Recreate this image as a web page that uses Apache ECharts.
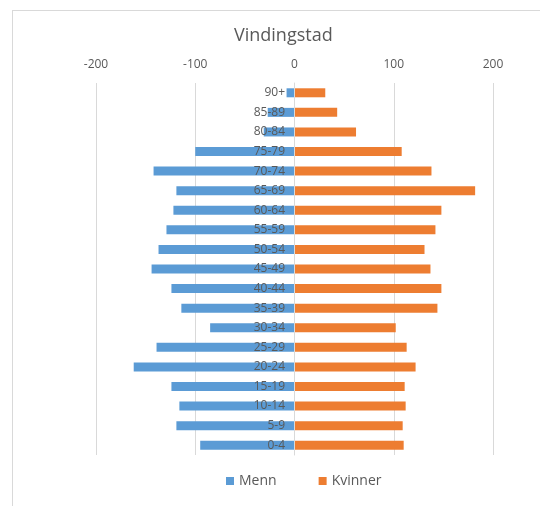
<!DOCTYPE html>
<html>
<head>
<meta charset="utf-8">
<script src="https://cdn.jsdelivr.net/npm/echarts@6/dist/echarts.min.js"></script>
<style>
  html, body { margin: 0; padding: 0; background: #fff; }
  #chart { width: 540px; height: 506px; }
</style>
</head>
<body>
<div id="chart"></div>
<script>
// aldersgrupper, nedenfra og opp
var ageGroups = ['0-4', '5-9', '10-14', '15-19', '20-24', '25-29', '30-34', '35-39', '40-44',
  '45-49', '50-54', '55-59', '60-64', '65-69', '70-74', '75-79', '80-84', '85-89', '90+'];
// menn vises som negative tall (venstre side)
var menn = [-95, -119, -116, -124, -162, -139, -85, -114, -124,
  -144, -137, -129, -122, -119, -142, -100, -31, -27, -8];
var kvinner = [110, 109, 112, 111, 122, 113, 102, 144, 148,
  137, 131, 142, 148, 182, 138, 108, 62, 43, 31];
var xTicks = [-200, -100, 0, 100, 200];

var textColor = '#595959';
var gridColor = '#d9d9d9';

var myChart = echarts.init(document.getElementById('chart'));
var option = {
  animation: false,
  textStyle: { fontFamily: 'Open Sans, Liberation Sans, sans-serif' },
  title: {
    text: 'Vindingstad',
    left: 229,
    top: 22,
    textStyle: { fontSize: 18, fontWeight: 'normal', color: textColor }
  },
  legend: {
    data: ['Menn', 'Kvinner'],
    bottom: 13,
    left: 221,
    itemWidth: 8,
    itemHeight: 8,
    itemGap: 42,
    icon: 'rect',
    textStyle: { fontSize: 14, color: textColor }
  },
  graphic: [
    { type: 'line', shape: { x1: 12, y1: 10.5, x2: 540, y2: 10.5 }, style: { stroke: gridColor, lineWidth: 1 } },
    { type: 'line', shape: { x1: 12.5, y1: 10, x2: 12.5, y2: 506 }, style: { stroke: gridColor, lineWidth: 1 } }
  ],
  grid: { left: 96, right: 47, top: 83, bottom: 51 },
  xAxis: {
    type: 'value',
    position: 'top',
    min: xTicks[0],
    max: xTicks[xTicks.length - 1],
    interval: 100,
    axisLine: { show: false },
    axisTick: { show: false },
    axisLabel: { color: textColor, fontSize: 12, margin: 12 },
    splitLine: { show: true, lineStyle: { color: gridColor, width: 1 } }
  },
  yAxis: {
    type: 'category',
    data: ageGroups,
    // flytt aksen (og etikettene) til null
    offset: -198,
    axisLine: { onZero: false, lineStyle: { color: gridColor } },
    axisTick: { show: false },
    axisLabel: { color: textColor, fontSize: 12, margin: 9 },
    z: 10
  },
  series: [
    {
      name: 'Menn',
      type: 'bar',
      data: menn,
      barWidth: 9,
      barGap: '-100%',
      itemStyle: { color: '#5B9BD5' }
    },
    {
      name: 'Kvinner',
      type: 'bar',
      data: kvinner,
      barWidth: 9,
      itemStyle: { color: '#ED7D31' }
    }
  ]
};
myChart.setOption(option);
</script>
</body>
</html>
